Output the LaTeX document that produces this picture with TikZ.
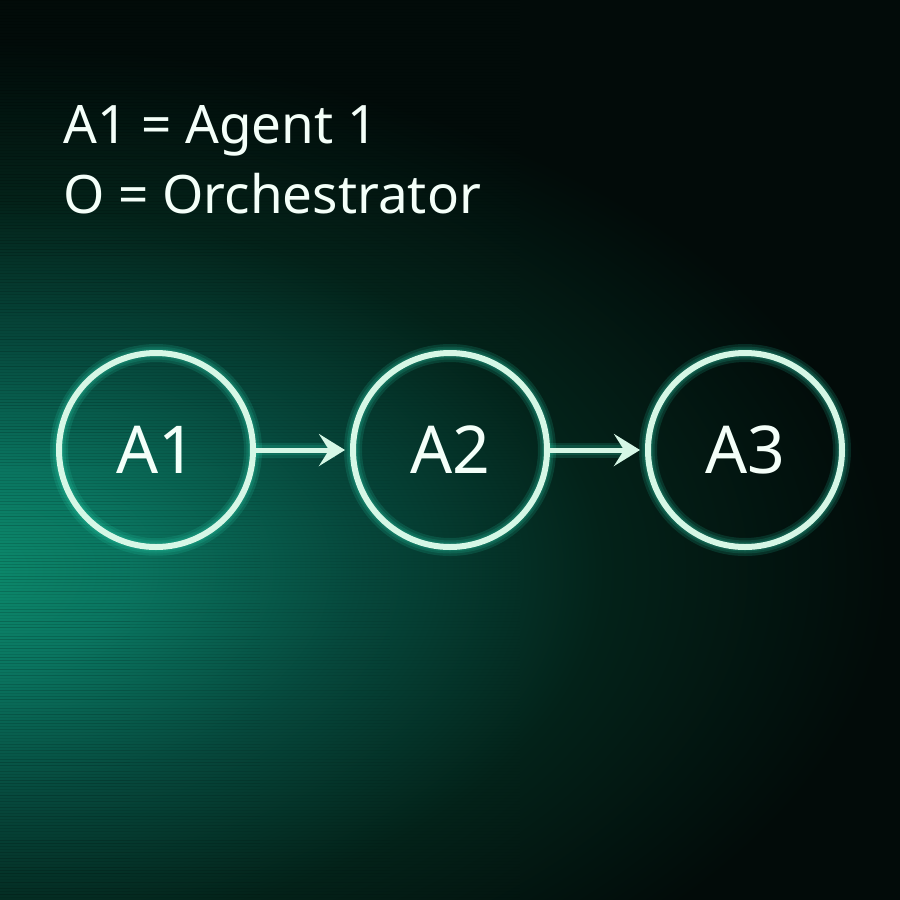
\documentclass[tikz,border=0pt]{standalone}
\usepackage{fontspec}
\setmainfont{Noto Sans}
\usetikzlibrary{arrows.meta}
\definecolor{bg}{HTML}{020B09}
\definecolor{gA}{HTML}{0C8E6E}
\definecolor{gB}{HTML}{0A7560}
\definecolor{gC}{HTML}{06483C}
\definecolor{gD}{HTML}{032219}
\definecolor{ink}{HTML}{D6F7E6}
\definecolor{halo}{HTML}{2AD6B0}
\definecolor{txt}{HTML}{F4FFF9}
\pgfdeclareradialshading{glow}{\pgfpoint{0bp}{0bp}}{color(0bp)=(gA); color(5bp)=(gB); color(11bp)=(gC); color(17.5bp)=(gD); color(25bp)=(bg); color(50bp)=(bg)}
\tikzset{
  agent/.style={circle, draw=ink, line width=6pt, minimum size=194pt, inner sep=0pt, outer sep=0pt,
    text=txt, font=\fontsize{66}{66}\selectfont},
  legend/.style={anchor=base west, inner sep=0pt, text=txt, font=\fontsize{53}{53}\selectfont},
  link/.style={draw=ink, line width=5pt, -{Stealth[length=26pt, width=32pt, inset=10pt]}, shorten >=8pt},
  halostroke/.style={draw=halo, line width=#1, opacity=0.15}
}
\begin{document}
\begin{tikzpicture}[x=1pt, y=-1pt]
  \fill[bg] (0,0) rectangle (900,900);
  \useasboundingbox (0,0) rectangle (900,900);
  \begin{scope}
    \clip (0,0) rectangle (900,900);
    \shade[shading=glow] (-60,570) ellipse (950 and 530);
    % scan lines
    \pgfmathsetseed{7}
    \foreach \i in {0,...,299}{
      \pgfmathsetmacro\op{0.04+0.14*rnd}
      \foreach \s/\f in {0/1,130/0.7,260/0.4,390/0.15}{
        \fill[black, opacity=\op*\f] (\s,3*\i) rectangle (\s+130,3*\i+1.3);
      }
    }
  \end{scope}
  % glow halos
  \foreach \cx in {156,450,745}{
    \foreach \w in {18,13,9}{
      \draw[halostroke=\w pt] (\cx,450) circle (97);
    }
  }
  \foreach \w in {15,10}{
    \draw[halostroke=\w pt] (255,450) -- (335,450);
    \draw[halostroke=\w pt] (549,450) -- (629,450);
  }
  \node[agent] (a1) at (156,450) {A1};
  \node[agent] (a2) at (450,450) {A2};
  \node[agent] (a3) at (745,450) {A3};
  \draw[link] (a1) -- (a2);
  \draw[link] (a2) -- (a3);
  \node[legend] (l1) at (63,143) {A1 = Agent 1};
  \node[legend] (l2) at (63,213) {O = Orchestrator};
\end{tikzpicture}
\end{document}
